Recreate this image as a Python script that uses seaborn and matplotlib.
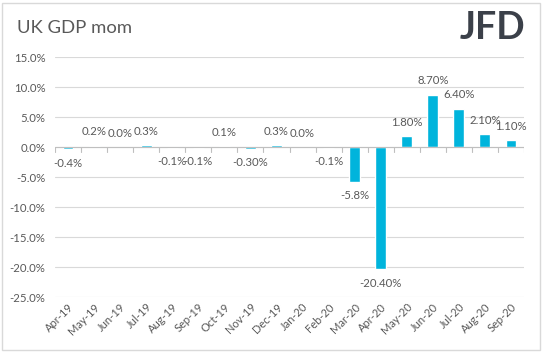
import matplotlib
matplotlib.use('Agg')
import matplotlib.pyplot as plt
import seaborn as sns
import pandas as pd
from matplotlib.ticker import FuncFormatter, MultipleLocator
from matplotlib.patches import Rectangle

#data
months = ['Apr-19', 'May-19', 'Jun-19', 'Jul-19', 'Aug-19', 'Sep-19', 'Oct-19', 'Nov-19', 'Dec-19',
          'Jan-20', 'Feb-20', 'Mar-20', 'Apr-20', 'May-20', 'Jun-20', 'Jul-20', 'Aug-20', 'Sep-20']
gdp = [-0.4, 0.2, 0.0, 0.3, -0.1, -0.1, 0.1, -0.3, 0.3,
       0.0, -0.1, -5.8, -20.4, 1.8, 8.7, 6.4, 2.1, 1.1]
labels = ['-0.4%', '0.2%', '0.0%', '0.3%', '-0.1%', '-0.1%', '0.1%', '-0.30%', '0.3%',
          '0.0%', '-0.1%', '-5.8%', '-20.40%', '1.80%', '8.70%', '6.40%', '2.10%', '1.10%']

df = pd.DataFrame({'month': months, 'gdp': gdp})

sns.set_style('white')
plt.rcParams['font.family'] = ['Lato', 'DejaVu Sans']
txt = '#595959'

fig = plt.figure(figsize=(5.43, 3.52), dpi=100)
ax = fig.add_axes([55 / 543, 1 - 297 / 352, 469 / 543, 240 / 352])

sns.barplot(data=df, x='month', y='gdp', color='#00B4DC', saturation=1, width=0.42, ax=ax)

ax.set_ylim(-25, 15)
ax.set_xlim(-0.5, len(months) - 0.5)
ax.yaxis.set_major_locator(MultipleLocator(5))
ax.yaxis.set_major_formatter(FuncFormatter(lambda v, p: f'{v:.1f}%'))
ax.grid(axis='y', color='#d9d9d9', lw=0.8)
ax.set_axisbelow(True)
for s in ax.spines.values():
    s.set_visible(False)

# zero axis with ticks between categories
ax.axhline(0, color='#bfbfbf', lw=0.8, zorder=1)
for i in range(len(months) + 1):
    ax.plot([i - 0.5, i - 0.5], [0, -0.9], color='#bfbfbf', lw=0.8, zorder=1)

ax.set_xlabel('')
ax.set_ylabel('')
ax.tick_params(axis='y', length=0, labelsize=8.2, labelcolor=txt, pad=7)
ax.tick_params(axis='x', length=0, labelsize=8, labelcolor=txt, pad=3)
plt.setp(ax.get_xticklabels(), rotation=45, ha='right', rotation_mode='anchor')

ax.bar_label(ax.containers[0], labels=labels, padding=6, fontsize=8.2, color=txt)

fig.text(17 / 543, 1 - 28 / 352, 'UK GDP mom', fontsize=13.3, color=txt, va='center')
fig.text(525 / 543, 1 - 28 / 352, 'JFD', fontsize=27, fontweight='bold', color='#3b4049',
         ha='right', va='center')

fig.patches.append(Rectangle((2 / 543, 2 / 352), 538 / 543, 347 / 352, transform=fig.transFigure,
                             fill=False, edgecolor='#d9d9d9', lw=1))

plt.savefig('out.png', dpi=100)
